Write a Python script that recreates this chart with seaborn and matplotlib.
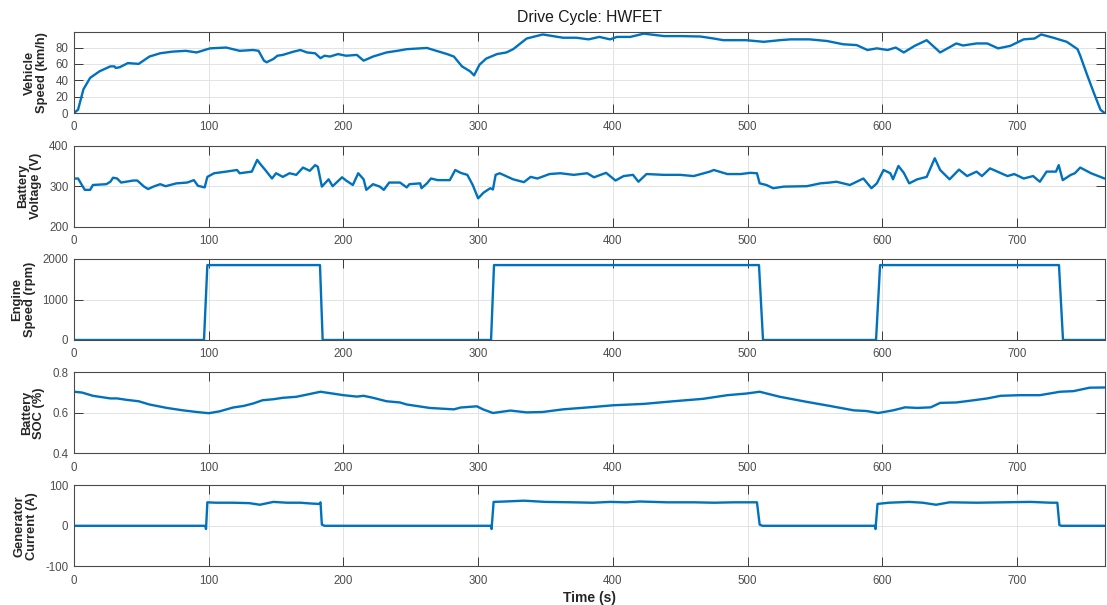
import matplotlib
matplotlib.use("Agg")
import matplotlib.pyplot as plt
import seaborn as sns
import pandas as pd

# ---------------- data ----------------
speed_t = [0, 3, 7, 12, 19, 27, 30, 31, 34, 40, 48, 56, 64, 73, 83, 91, 101, 113, 123, 133,
           137, 141, 143, 148, 151, 155, 163, 168, 173, 179, 183, 186, 190, 196, 202, 210, 215, 222, 232, 240,
           247, 262, 267, 277, 282, 288, 294, 297, 301, 306, 314, 321, 326, 336, 348, 363, 373, 382, 390, 398,
           403, 413, 423, 438, 450, 465, 475, 482, 499, 512, 524, 532, 546, 559, 571, 581, 589, 596, 604, 610,
           616, 624, 633, 643, 655, 660, 670, 678, 686, 695, 705, 713, 718, 727, 737, 745, 747, 752, 757, 762, 765]
speed_kmh = [0, 4, 29, 43, 51, 57, 57, 55, 56, 61, 60, 69, 73, 75, 76, 74, 79, 80, 76, 77,
             76, 64, 62, 66, 70, 71, 75, 77, 74, 73, 67, 70, 69, 72, 70, 71, 64, 69, 74, 76,
             78, 79.5, 77, 72, 69, 57, 51, 46, 59, 66.5, 72, 74, 78, 91, 96, 92, 92, 90, 93, 90,
             93, 93, 97, 94, 94, 93.5, 91, 89, 89, 87, 89, 90, 90, 88, 84, 83, 77, 79, 77, 80,
             74, 82, 89, 74, 85, 82.5, 85, 85, 79, 82, 90, 91, 96, 92, 87, 78, 70, 47, 25, 4, 0]

volt_t = [0, 3, 8, 12, 14, 24, 27, 29, 32, 35, 44, 47, 52, 55, 59, 64, 68, 76, 84, 89,
          92, 97, 99, 104, 113, 121, 123, 132, 136, 138, 142, 147, 150, 155, 160, 165, 170, 175, 179, 181,
          184, 189, 192, 199, 202, 207, 211, 215, 217, 222, 227, 230, 234, 242, 247, 249, 257, 258, 262, 265,
          270, 279, 283, 287, 292, 296, 300, 304, 309, 311, 313, 316, 326, 334, 339, 344, 353, 361, 371, 381,
          386, 395, 402, 408, 415, 419, 425, 438, 450, 460, 472, 475, 485, 495, 502, 507, 509, 514, 519, 527,
          544, 554, 561, 566, 576, 586, 592, 596, 601, 606, 608, 612, 616, 620, 626, 633, 639, 643, 650, 657,
          663, 670, 674, 680, 693, 698, 705, 712, 717, 722, 729, 731, 734, 740, 743, 747, 755, 765]
volt_v = [319, 319, 291, 291, 303, 305, 311, 321, 319, 309, 314, 314, 299, 293, 299, 305, 300, 307, 309, 315,
          301, 297, 323, 332, 336, 340, 332, 336, 365, 356, 340, 319, 332, 323, 332, 328, 346, 338, 352, 348,
          299, 317, 300, 322, 314, 303, 332, 317, 291, 305, 299, 291, 309, 309, 297, 305, 307, 295, 307, 319,
          315, 315, 340, 333, 328, 303, 270, 284, 295, 292, 328, 332, 317, 310, 323, 319, 330, 332, 328, 332,
          322, 333, 314, 325, 328, 311, 330, 328, 328, 325, 336, 340, 330, 330, 333, 332, 307, 303, 295, 299,
          300, 307, 309, 311, 303, 319, 295, 307, 340, 332, 317, 350, 333, 307, 317, 323, 369, 340, 317, 341,
          325, 336, 325, 344, 325, 330, 319, 325, 311, 336, 336, 352, 315, 328, 332, 346, 332, 319]

engine_t = [0, 96.5, 99, 182.6, 184.6, 309.6, 311.8, 508.5, 511.5, 595.4, 598.4, 731.2, 734.2, 765]
engine_rpm = [0, 0, 1850, 1850, 0, 0, 1850, 1850, 0, 0, 1850, 1850, 0, 0]

soc_t = [0, 6, 14, 27, 32, 39, 48, 56, 69, 81, 91, 100, 108, 118, 126, 133, 140, 148, 155, 165,
         173, 183, 192, 200, 210, 215, 222, 232, 242, 247, 264, 282, 287, 299, 304, 311, 324, 336, 348, 363,
         386, 400, 423, 445, 467, 485, 499, 509, 524, 544, 561, 579, 588, 597, 608, 617, 626, 636, 643, 655,
         668, 678, 688, 702, 717, 732, 742, 754, 765]
soc_val = [0.704, 0.700, 0.684, 0.671, 0.671, 0.664, 0.657, 0.641, 0.624, 0.612, 0.604, 0.598, 0.607, 0.626,
           0.634, 0.646, 0.662, 0.667, 0.674, 0.679, 0.690, 0.704, 0.695, 0.687, 0.680, 0.684, 0.674, 0.657,
           0.651, 0.641, 0.624, 0.617, 0.626, 0.632, 0.616, 0.599, 0.611, 0.602, 0.604, 0.617, 0.629, 0.637,
           0.644, 0.657, 0.669, 0.687, 0.695, 0.704, 0.679, 0.654, 0.634, 0.612, 0.609, 0.599, 0.612, 0.627,
           0.624, 0.627, 0.649, 0.651, 0.662, 0.671, 0.684, 0.687, 0.687, 0.704, 0.707, 0.724, 0.725]

gen_t = [0, 97.5, 98, 99, 105, 118, 130, 138, 148, 158, 168, 176, 182, 183, 184, 186,
         309.5, 310, 311.5, 320, 334, 350, 370, 385, 398, 410, 420, 440, 460, 475, 490, 507, 509, 511,
         594.5, 595, 596.5, 605, 620, 630, 640, 650, 670, 690, 710, 725, 730, 731.5, 733, 765]
gen_a = [0, 0, -8, 58, 57, 57, 56, 52, 59, 57, 57, 55, 54, 58, 3, 0,
         0, -8, 59, 60, 62, 59, 58, 57, 59, 58, 60, 58, 58, 57, 58, 58, 3, 0,
         0, -8, 54, 57, 59, 57, 52, 58, 57, 58, 59, 57, 57, 2, 0, 0]

panels = [
    ("Vehicle\nSpeed (km/h)", speed_t, speed_kmh, (0, 99), [0, 20, 40, 60, 80], None),
    ("Battery\nVoltage (V)", volt_t, volt_v, (200, 400), [200, 300, 400], None),
    ("Engine\nSpeed (rpm)", engine_t, engine_rpm, (0, 2000), [0, 1000, 2000], None),
    ("Battery\nSOC (%)", soc_t, soc_val, (0.4, 0.8), [0.4, 0.6, 0.8], ["0.4", "0.6", "0.8"]),
    ("Generator\nCurrent (A)", gen_t, gen_a, (-100, 100), [-100, 0, 100], None),
]
x_ticks = [0, 100, 200, 300, 400, 500, 600, 700]

# ---------------- style ----------------
sns.set_theme(style="ticks")
plt.rcParams['font.family'] = ['Liberation Sans', 'DejaVu Sans']
plt.rcParams['axes.unicode_minus'] = False

LINE = "#0072BD"
W, H = 1107, 605
fig = plt.figure(figsize=(W / 100, H / 100), dpi=100)

left = 74 / W
width = (1104.5 - 74) / W
tops = [32, 145.7, 259, 372.3, 485.3]
ah = 81 / H

axes = []
for i, (lab, tt, vv, ylim, yt, ytl) in enumerate(panels):
    bottom = 1 - (tops[i] + 81) / H
    ax = fig.add_axes([left, bottom, width, ah])
    df = pd.DataFrame({"t": tt, "v": vv})
    sns.lineplot(data=df, x="t", y="v", ax=ax, color=LINE, linewidth=1.7,
                 estimator=None, sort=False)
    ax.set_xlim(0, 765)
    ax.set_xticks(x_ticks)
    ax.set_ylim(*ylim)
    ax.set_yticks(yt)
    if ytl is not None:
        ax.set_yticklabels(ytl)
    ax.grid(True, color="#e3e3e3", linewidth=0.7)
    ax.set_axisbelow(True)
    ax.tick_params(direction="in", top=True, right=True, length=6.5, width=0.7,
                   color="#3a3a3a", labelcolor="#4d4d4d", labelsize=8.3, pad=6)
    ax.tick_params(axis="y", pad=4)
    for s in ax.spines.values():
        s.set_color("#4a4a4a")
        s.set_linewidth(0.8)
    ax.set_ylabel(lab, fontsize=9.3, fontweight="bold", color="#262626",
                  linespacing=1.05, labelpad=5)
    ax.set_xlabel("")
    axes.append(ax)

axes[0].set_title("Drive Cycle: HWFET", fontsize=11.3, color="#1a1a1a", pad=7)
axes[-1].set_xlabel("Time (s)", fontsize=10, fontweight="bold", color="#262626", labelpad=3)

fig.savefig("out.png", dpi=100)
